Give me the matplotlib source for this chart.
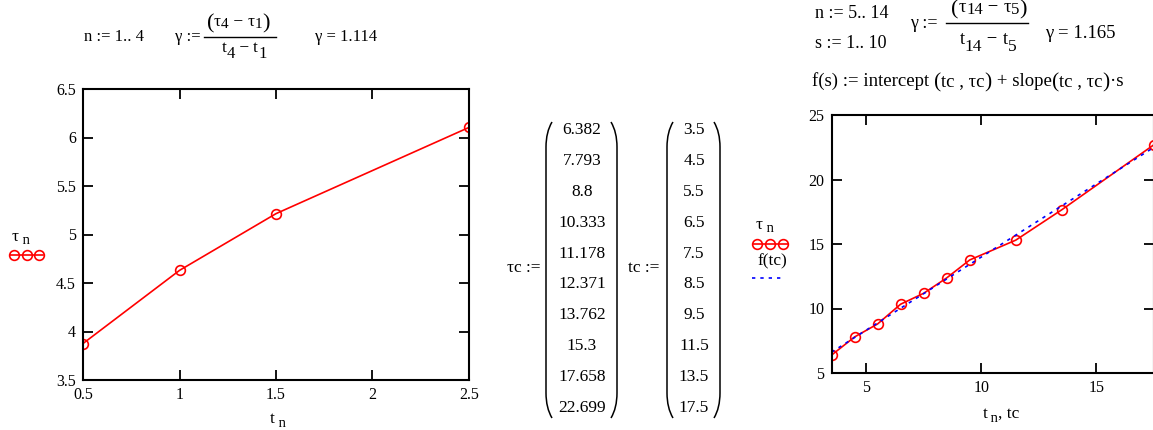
import numpy as np
import matplotlib.pyplot as plt
from matplotlib.lines import Line2D
from matplotlib.path import Path
from matplotlib.patches import PathPatch

plt.rcParams['font.family'] = ['Liberation Serif', 'DejaVu Serif']

W, H = 1153, 430

# left plot: tau_n over t_n, n = 1..4
t_n = [0.5, 1.0, 1.5, 2.5]
tau_n = [3.876, 4.63, 5.215, 6.104]

# right plot: n = 5..14
tc = [3.5, 4.5, 5.5, 6.5, 7.5, 8.5, 9.5, 11.5, 13.5, 17.5]
tauc = [6.382, 7.793, 8.8, 10.333, 11.178, 12.371, 13.762, 15.3, 17.658, 22.699]
f_tc = [6.61, 7.75, 8.88, 10.02, 11.15, 12.29, 13.42, 15.69, 17.96, 22.50]  # blue dashed line

tauc_txt = ['6.382', '7.793', '8.8', '10.333', '11.178', '12.371', '13.762', '15.3', '17.658', '22.699']
tc_txt = ['3.5', '4.5', '5.5', '6.5', '7.5', '8.5', '9.5', '11.5', '13.5', '17.5']

RED = '#ff0000'
BLUE = '#0000ff'


def fx(x):
    return x / W


def fy(y):
    return 1 - y / H


def ftext(x, y, s, size=12, ha='center', **kw):
    return fig.text(fx(x), fy(y), s, fontsize=size, ha=ha, va='center', **kw)


def hline(x0, x1, y, **kw):
    fig.add_artist(Line2D([fx(x0), fx(x1)], [fy(y), fy(y)], transform=fig.transFigure, **kw))


def runs(x, base, parts, center=True):
    # lay out pieces (text, size, dy) side by side on one baseline
    r = fig.canvas.get_renderer()
    objs = []
    cur = 0
    for s, size, dy in parts:
        t = fig.text(0, 0, s, fontsize=size, va='baseline', ha='left')
        objs.append((t, cur, dy))
        cur += t.get_window_extent(r).width
    x0 = x - cur / 2 if center else x
    for t, off, dy in objs:
        t.set_position((fx(x0 + off), fy(base + dy)))


def style(ax):
    for sp in ax.spines.values():
        sp.set_linewidth(1.5)
    ax.tick_params(direction='in', length=7.5, width=1.3, top=True, right=True,
                   labelsize=11.5, pad=5)


fig = plt.figure(figsize=(W / 100, H / 100), dpi=100)

# ---------------- left plot
ax1 = fig.add_axes([fx(83), fy(380), (469 - 83) / W, (380 - 89) / H])
ax1.plot(t_n, tau_n, color=RED, lw=1.2, marker='o', ms=7, mfc='none', mec=RED, mew=1.2)
ax1.set_xlim(0.5, 2.5)
ax1.set_ylim(3.5, 6.5)
ax1.set_xticks([0.5, 1, 1.5, 2, 2.5])
ax1.set_xticklabels(['0.5', '1', '1.5', '2', '2.5'])
ax1.set_yticks([3.5, 4, 4.5, 5, 5.5, 6, 6.5])
ax1.set_yticklabels(['3.5', '4', '4.5', '5', '5.5', '6', '6.5'])
style(ax1)

# ---------------- right plot
ax2 = fig.add_axes([fx(831.5), fy(373), (1154 - 831.5) / W, (373 - 115) / H])
ax2.plot(tc, tauc, color=RED, lw=1.2, marker='o', ms=7, mfc='none', mec=RED, mew=1.2)
ax2.plot(tc, f_tc, color=BLUE, lw=1.2, ls=(0, (2, 3)))
ax2.set_xlim(3.5, 17.5)
ax2.set_ylim(5, 25)
ax2.set_xticks([5, 10, 15])
ax2.set_yticks([5, 10, 15, 20, 25])
style(ax2)

# axis labels
runs(278, 423, [('t', 12.5, 0), (' n', 10.5, 4)])
runs(1001, 418, [('t', 12.5, 0), (' n', 10.5, 4), (', tc', 12.5, 0)])

# legends
runs(21, 241, [('τ', 12.5, 0), (' n', 10.5, 3)])
hline(10, 43, 255, color=RED, lw=1.2)
fig.add_artist(Line2D([fx(14), fx(27), fx(39)], [fy(255)] * 3, transform=fig.transFigure,
                      ls='none', marker='o', ms=7, mfc='none', mec=RED, mew=1.2))

runs(765, 229, [('τ', 12.5, 0), (' n', 10.5, 3)])
hline(753, 788, 244, color=RED, lw=1.2)
fig.add_artist(Line2D([fx(757), fx(770), fx(783)], [fy(244)] * 3, transform=fig.transFigure,
                      ls='none', marker='o', ms=7, mfc='none', mec=RED, mew=1.2))
ftext(772, 261, 'f(tc)', 12.5)
hline(752, 785, 278, color=BLUE, lw=1.2, ls=(0, (2, 3)))

# top formulas, left
ftext(84, 37, 'n := 1.. 4', 12, ha='left')
ftext(175, 37, 'γ :=', 12, ha='left')
runs(238, 26, [('(', 16, 2), ('τ', 12.5, 0), ('4', 11, 2), (' − ', 12.5, 0),
               ('τ', 12.5, 0), ('1', 11, 2), (')', 16, 2)])
hline(204, 276, 37, color='black', lw=1.0)
runs(244, 52, [('t', 12.5, 0), ('4', 12, 6), (' − ', 12.5, 0), ('t', 12.5, 0), ('1', 12, 6)])
ftext(315, 37, 'γ = 1.114', 12, ha='left')

# top formulas, right
ftext(815, 14, 'n := 5.. 14', 13, ha='left')
ftext(815, 43, 's := 1.. 10', 13, ha='left')
ftext(910, 23, 'γ :=', 13, ha='left')
runs(989, 12, [('(', 16, 2), ('τ', 13.5, 0), ('14', 12, 2), (' − ', 13.5, 0),
               ('τ', 13.5, 0), ('5', 12, 2), (')', 16, 2)])
hline(946, 1028, 23, color='black', lw=1.0)
runs(988, 44, [('t', 13.5, 0), ('14', 12.5, 7), (' − ', 13.5, 0), ('t', 13.5, 0), ('5', 12.5, 7)])
ftext(1045, 34, 'γ = 1.165', 13.5, ha='left')

runs(812, 86, [('f(s) := intercept ', 13.5, 0), ('(', 15.5, 1), ('tc , τc', 13.5, 0), (')', 15.5, 1),
               (' + slope', 13.5, 0), ('(', 15.5, 1), ('tc , τc', 13.5, 0), (')', 15.5, 1),
               ('·s', 13.5, 0)], center=False)


# matrices
def paren(xl, xr, top, bot):
    for x0, x1 in [(xl, xl + 6), (xr, xr - 6)]:
        verts = [(fx(x1), fy(top)), (fx(x0), fy(top + 10)), (fx(x0), fy(top + 25)),
                 (fx(x0), fy(bot - 25)), (fx(x0), fy(bot - 10)), (fx(x1), fy(bot))]
        codes = [Path.MOVETO, Path.CURVE3, Path.CURVE3, Path.LINETO, Path.CURVE3, Path.CURVE3]
        fig.add_artist(PathPatch(Path(verts, codes), transform=fig.transFigure,
                                 fc='none', ec='black', lw=1.1))


rows = 130 + np.arange(len(tauc_txt)) * 30.9
ftext(524, 268, 'τc :=', 12.5)
paren(546, 617, 122, 418)
for y, s in zip(rows, tauc_txt):
    ftext(582, y, s, 12.5)

ftext(644, 268, 'tc :=', 12.5)
paren(667, 720, 122, 418)
for y, s in zip(rows, tc_txt):
    ftext(694, y, s, 12.5)

fig.savefig('out.png', dpi=100)
